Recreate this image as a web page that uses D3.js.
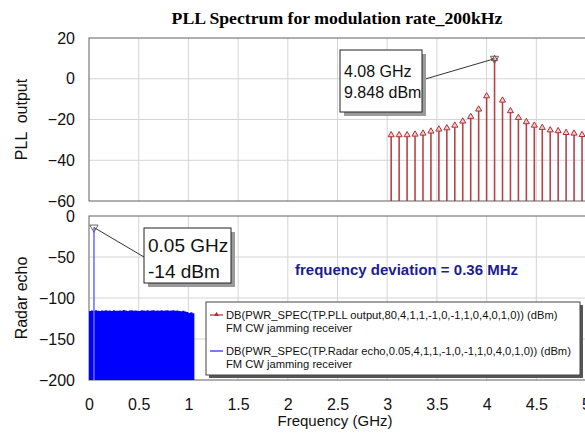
<!DOCTYPE html>
<html>
<head>
<meta charset="utf-8">
<script src="https://cdn.jsdelivr.net/npm/d3@7"></script>
<style>
  body { margin: 0; background: #fff; }
  svg { display: block; font-family: "Liberation Sans", Arial, sans-serif; }
</style>
</head>
<body>
<svg id="chart" width="585" height="439"></svg>
<script>
// PLL output spectrum lines (80 MHz spacing), GHz / dBm
const pllFreq = [3.04, 3.12, 3.20, 3.28, 3.36, 3.44, 3.52, 3.60, 3.68, 3.76, 3.84, 3.92, 4.00,
                 4.08, 4.16, 4.24, 4.32, 4.40, 4.48, 4.56, 4.64, 4.72, 4.80, 4.88, 4.96];
const pllDbm = [-27.6, -27.6, -27.6, -27.3, -26.8, -25.8, -24.8, -24.2, -22.9, -20.9, -18.6, -15.0, -8.5,
                9.848, -10.6, -15.8, -19.1, -21.2, -22.9, -24.0, -25.2, -25.6, -26.5, -26.8, -27.5];

// radar echo: carrier spike + noise floor envelope
const echoSpike = { f: 0.05, db: -14 };
const noiseFreq = [0, 0.02, 0.04, 0.06, 0.08, 0.10, 0.12, 0.14, 0.16, 0.18, 0.20, 0.22, 0.24, 0.26,
                   0.28, 0.30, 0.32, 0.34, 0.36, 0.38, 0.40, 0.42, 0.44, 0.46, 0.48, 0.50, 0.52, 0.54,
                   0.56, 0.58, 0.60, 0.62, 0.64, 0.66, 0.68, 0.70, 0.72, 0.74, 0.76, 0.78, 0.80, 0.82,
                   0.84, 0.86, 0.88, 0.90, 0.92, 0.94, 0.96, 0.98, 1.00, 1.02, 1.04, 1.06];
const noiseDbm = [-116, -115.2, -115.6, -114.8, -115.4, -115.9, -115.1, -115.5, -114.9, -115.6, -115.2, -115.8, -115.0, -115.4,
                  -115.7, -115.1, -115.5, -114.7, -115.3, -115.8, -115.2, -114.9, -115.6, -115.1, -115.4, -115.9, -114.8, -115.3,
                  -115.6, -115.0, -115.5, -115.2, -114.8, -115.6, -115.1, -115.4, -114.9, -115.7, -115.2, -115.0, -115.6, -115.3,
                  -114.8, -115.5, -115.2, -115.9, -116.2, -115.6, -116.4, -117.0, -118.2, -117.4, -118.6, -119.4];

const xTicks = [0, 0.5, 1, 1.5, 2, 2.5, 3, 3.5, 4, 4.5, 5];
const topTicks = [20, 0, -20, -40, -60];
const botTicks = [0, -50, -100, -150, -200];

const sans = '"Liberation Sans", Arial, sans-serif';
const serif = '"Liberation Serif", "Times New Roman", serif';

const svg = d3.select('#chart');

const x = d3.scaleLinear().domain([0, 5]).range([89, 586]);
const yTop = d3.scaleLinear().domain([-60, 20]).range([201, 38]);
const yBot = d3.scaleLinear().domain([-200, 0]).range([380, 216]);

function panel(y, ticks) {
    const [y0, y1] = y.range();
    // gridlines
    svg.append('g').selectAll('line').data(xTicks.slice(1, -1)).join('line')
        .attr('x1', d => x(d)).attr('x2', d => x(d))
        .attr('y1', y1).attr('y2', y0)
        .attr('stroke', '#d4d4d4').attr('stroke-width', 1);
    svg.append('g').selectAll('line').data(ticks.slice(1, -1)).join('line')
        .attr('x1', x(0)).attr('x2', x(5))
        .attr('y1', d => y(d)).attr('y2', d => y(d))
        .attr('stroke', '#d4d4d4').attr('stroke-width', 1);
    // frame
    svg.append('rect')
        .attr('x', x(0)).attr('y', y1)
        .attr('width', x(5) - x(0)).attr('height', y0 - y1)
        .attr('fill', 'none').attr('stroke', '#606060').attr('stroke-width', 1);
    // y axis
    const ax = svg.append('g')
        .attr('transform', 'translate(' + x(0) + ',0)')
        .call(d3.axisLeft(y).tickValues(ticks).tickSize(0).tickPadding(14));
    ax.select('.domain').remove();
    ax.selectAll('text').attr('font-size', 16).attr('fill', '#111').style('font-family', sans);
}

panel(yTop, topTicks);
panel(yBot, botTicks);

// x axis labels
const xa = svg.append('g')
    .attr('transform', 'translate(0,' + yBot(-200) + ')')
    .call(d3.axisBottom(x).tickValues(xTicks).tickSize(0).tickPadding(19).tickFormat(d3.format('')));
xa.select('.domain').remove();
xa.selectAll('text').attr('font-size', 16).attr('fill', '#111').style('font-family', sans);

// titles
svg.append('text')
    .attr('x', 337).attr('y', 24)
    .attr('text-anchor', 'middle')
    .style('font-family', serif)
    .attr('font-weight', 'bold').attr('font-size', 17.7)
    .text('PLL Spectrum for modulation rate_200kHz');

svg.append('text')
    .attr('x', 335).attr('y', 426)
    .attr('text-anchor', 'middle').attr('font-size', 15).attr('fill', '#111')
    .text('Frequency (GHz)');

svg.append('text')
    .attr('transform', 'translate(27,' + ((yTop(20) + yTop(-60)) / 2) + ') rotate(-90)')
    .attr('text-anchor', 'middle').attr('font-size', 16).attr('fill', '#111')
    .attr('xml:space', 'preserve')
    .text('PLL  output');

svg.append('text')
    .attr('transform', 'translate(27,' + ((yBot(0) + yBot(-200)) / 2) + ') rotate(-90)')
    .attr('text-anchor', 'middle').attr('font-size', 16).attr('fill', '#111')
    .text('Radar echo');

// PLL stems
const red = '#ad3035';
const pll = pllFreq.map((f, i) => ({ f: f, db: pllDbm[i] }));
svg.append('g').selectAll('line').data(pll).join('line')
    .attr('x1', d => x(d.f)).attr('x2', d => x(d.f))
    .attr('y1', yTop(-60)).attr('y2', d => yTop(d.db))
    .attr('stroke', red).attr('stroke-width', 1.6).attr('stroke-opacity', 0.9);
const tri = d3.symbol().type(d3.symbolTriangle).size(16);
svg.append('g').selectAll('path').data(pll).join('path')
    .attr('d', tri)
    .attr('transform', d => 'translate(' + x(d.f) + ',' + yTop(d.db) + ')')
    .attr('fill', '#f2d0d0').attr('stroke', red).attr('stroke-width', 1);

// radar echo noise floor + spike
const noise = noiseFreq.map((f, i) => ({ f: f, db: noiseDbm[i] }));
svg.append('path')
    .datum(noise)
    .attr('d', d3.area().curve(d3.curveStepAfter)
        .x(d => x(d.f)).y0(yBot(-200)).y1(d => yBot(d.db)))
    .attr('fill', '#0000ff');
svg.append('line')
    .attr('x1', x(echoSpike.f)).attr('x2', x(echoSpike.f))
    .attr('y1', yBot(-200)).attr('y2', yBot(echoSpike.db))
    .attr('stroke', '#6a6aff').attr('stroke-width', 1.5);

// marker annotations
function marker(px, py, box, lines, fs, lineEnd) {
    svg.append('line')
        .attr('x1', px).attr('y1', py).attr('x2', lineEnd[0]).attr('y2', lineEnd[1])
        .attr('stroke', '#333').attr('stroke-width', 1);
    svg.append('path')
        .attr('d', d3.symbol().type(d3.symbolTriangle).size(30))
        .attr('transform', 'translate(' + px + ',' + py + ') rotate(180)')
        .attr('fill', 'none').attr('stroke', '#666').attr('stroke-width', 1);
    svg.append('rect')
        .attr('x', box.x + 4).attr('y', box.y + 4).attr('width', box.w).attr('height', box.h)
        .attr('fill', '#9a9a9a');
    svg.append('rect')
        .attr('x', box.x).attr('y', box.y).attr('width', box.w).attr('height', box.h)
        .attr('fill', '#fff').attr('stroke', '#222').attr('stroke-width', 1);
    lines.forEach((t, i) => {
        svg.append('text')
            .attr('x', box.x + 4).attr('y', box.y + box.pad + i * box.lh)
            .attr('font-size', fs).attr('fill', '#111')
            .text(t);
    });
}

marker(x(4.08), yTop(9.848), { x: 340, y: 50, w: 82, h: 62, pad: 27, lh: 21 },
    ['4.08 GHz', '9.848 dBm'], 16, [422, 80]);
marker(x(echoSpike.f), yBot(echoSpike.db), { x: 144, y: 228, w: 87, h: 55, pad: 24, lh: 26 },
    ['0.05 GHz', '-14 dBm'], 19, [144, 257]);

svg.append('text')
    .attr('x', 295).attr('y', 275)
    .attr('font-size', 15).attr('font-weight', 'bold').attr('fill', '#1c1c96')
    .text('frequency deviation = 0.36 MHz');

// legend
const lg = { x: 206, y: 302, w: 374, h: 73 };
svg.append('rect')
    .attr('x', lg.x + 3).attr('y', lg.y + 3).attr('width', lg.w).attr('height', lg.h)
    .attr('fill', '#555');
svg.append('rect')
    .attr('x', lg.x).attr('y', lg.y).attr('width', lg.w).attr('height', lg.h)
    .attr('fill', '#fff').attr('stroke', '#444').attr('stroke-width', 1);

const legendItems = [
    { color: red, mark: true, l1: 'DB(PWR_SPEC(TP.PLL output,80,4,1,1,-1,0,-1,1,0,4,0,1,0)) (dBm)', l2: 'FM CW jamming receiver', y: 315 },
    { color: '#2020ff', mark: false, l1: 'DB(PWR_SPEC(TP.Radar echo,0.05,4,1,1,-1,0,-1,1,0,4,0,1,0)) (dBm)', l2: 'FM CW jamming receiver', y: 351 }
];
legendItems.forEach(it => {
    svg.append('line')
        .attr('x1', 210).attr('x2', 223).attr('y1', it.y).attr('y2', it.y)
        .attr('stroke', it.color).attr('stroke-width', 1.2);
    if (it.mark) {
        svg.append('path')
            .attr('d', d3.symbol().type(d3.symbolTriangle).size(10))
            .attr('transform', 'translate(216.5,' + (it.y - 0.5) + ')')
            .attr('fill', it.color);
    }
    svg.append('text').attr('x', 226).attr('y', it.y + 4)
        .attr('font-size', 11.2).attr('fill', '#111').text(it.l1);
    svg.append('text').attr('x', 226).attr('y', it.y + 17)
        .attr('font-size', 11.2).attr('fill', '#111').text(it.l2);
});
</script>
</body>
</html>
